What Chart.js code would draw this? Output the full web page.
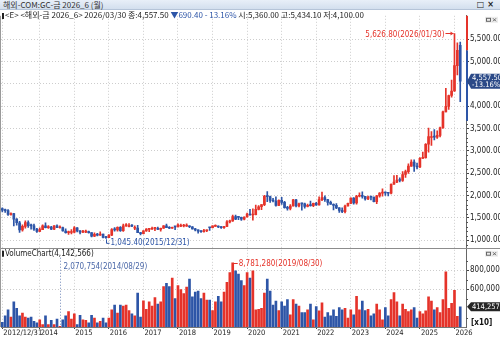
<!DOCTYPE html>
<html>
<head>
<meta charset="utf-8">
<script src="https://cdn.jsdelivr.net/npm/chart.js@4.4.1/dist/chart.umd.min.js"></script>
<style>
    body { margin: 0; width: 500px; height: 338px; overflow: hidden; background: #fff; position: relative; }
    #title { position: absolute; left: 0; top: 0; width: 500px; height: 10px; box-sizing: border-box;
        background: linear-gradient(#e8eff8, #d3dfee); border-bottom: 1px solid #b5c4d8;
        font: 8px/9px 'Noto Sans CJK KR', sans-serif; color: #333; padding-left: 3px; z-index: 2; }
    #title .btn { position: absolute; right: 3px; top: 0; font: bold 8px/9px 'DejaVu Sans', sans-serif; color: #222; letter-spacing: 3px; }
    #info { position: absolute; left: 2px; top: 10px; height: 9px; white-space: nowrap; z-index: 2;
        font: 8px/9px 'Liberation Sans Narrow', 'Noto Sans CJK KR', sans-serif; color: #222; }
    #info .dn { color: #2d55a7; }
    #info .mk { display: inline-block; width: 2px; height: 6px; background: #222; margin-right: 1px; vertical-align: -1px; }
    #c { position: absolute; left: 0; top: 10px; }
</style>
</head>
<body>
<div id="title">해외-COM:GC-금 2026_6 (월)<span class="btn">□×</span></div>
<div id="info"></div>
<canvas id="c" width="500" height="328"></canvas>
<script>
    const months = [
        '2012/12',
        '2013/01', '2013/02', '2013/03', '2013/04', '2013/05', '2013/06', '2013/07', '2013/08', '2013/09', '2013/10', '2013/11', '2013/12',
        '2014/01', '2014/02', '2014/03', '2014/04', '2014/05', '2014/06', '2014/07', '2014/08', '2014/09', '2014/10', '2014/11', '2014/12',
        '2015/01', '2015/02', '2015/03', '2015/04', '2015/05', '2015/06', '2015/07', '2015/08', '2015/09', '2015/10', '2015/11', '2015/12',
        '2016/01', '2016/02', '2016/03', '2016/04', '2016/05', '2016/06', '2016/07', '2016/08', '2016/09', '2016/10', '2016/11', '2016/12',
        '2017/01', '2017/02', '2017/03', '2017/04', '2017/05', '2017/06', '2017/07', '2017/08', '2017/09', '2017/10', '2017/11', '2017/12',
        '2018/01', '2018/02', '2018/03', '2018/04', '2018/05', '2018/06', '2018/07', '2018/08', '2018/09', '2018/10', '2018/11', '2018/12',
        '2019/01', '2019/02', '2019/03', '2019/04', '2019/05', '2019/06', '2019/07', '2019/08', '2019/09', '2019/10', '2019/11', '2019/12',
        '2020/01', '2020/02', '2020/03', '2020/04', '2020/05', '2020/06', '2020/07', '2020/08', '2020/09', '2020/10', '2020/11', '2020/12',
        '2021/01', '2021/02', '2021/03', '2021/04', '2021/05', '2021/06', '2021/07', '2021/08', '2021/09', '2021/10', '2021/11', '2021/12',
        '2022/01', '2022/02', '2022/03', '2022/04', '2022/05', '2022/06', '2022/07', '2022/08', '2022/09', '2022/10', '2022/11', '2022/12',
        '2023/01', '2023/02', '2023/03', '2023/04', '2023/05', '2023/06', '2023/07', '2023/08', '2023/09', '2023/10', '2023/11', '2023/12',
        '2024/01', '2024/02', '2024/03', '2024/04', '2024/05', '2024/06', '2024/07', '2024/08', '2024/09', '2024/10', '2024/11', '2024/12',
        '2025/01', '2025/02', '2025/03', '2025/04', '2025/05', '2025/06', '2025/07', '2025/08', '2025/09', '2025/10', '2025/11', '2025/12',
        '2026/01', '2026/02', '2026/03'
    ];

    const open = [
        1712,
        1675, 1663, 1578, 1597, 1476, 1393, 1234, 1313, 1396, 1328, 1323, 1250,
        1202, 1240, 1326, 1284, 1296, 1250, 1322, 1282, 1287, 1210, 1172, 1175,
        1184, 1279, 1213, 1183, 1184, 1190, 1172, 1095, 1132, 1115, 1142, 1065,
        1060, 1116, 1238, 1234, 1292, 1215, 1322, 1306, 1320, 1270, 1276, 1173,
        1152, 1211, 1246, 1249, 1266, 1270, 1242, 1270, 1322, 1283, 1271, 1311,
        1303, 1316, 1320, 1318, 1320, 1305, 1253, 1233, 1206, 1196, 1215, 1286,
        1282, 1313, 1319, 1298, 1285, 1311, 1413, 1437, 1529, 1516, 1513, 1472,
        1523, 1587, 1566, 1577, 1694, 1751, 1800, 1986, 1978, 1895, 1879, 1780,
        1895, 1850, 1729, 1716, 1768, 1905, 1771, 1818, 1815, 1757, 1784, 1776,
        1829, 1795, 1909, 1954, 1911, 1848, 1807, 1781, 1726, 1672, 1640, 1768,
        1826, 1945, 1836, 1986, 1999, 1982, 1929, 1970, 1966, 1866, 1995, 2057,
        2071, 2058, 2054, 2254, 2303, 2348, 2339, 2473, 2536, 2659, 2749, 2657,
        2641, 2835, 2848, 3150, 3300, 3315, 3307, 3348, 3516, 3873, 3996, 4239,
        4341, 4908, 5360
    ];
    const high = [
        1727,
        1700, 1690, 1617, 1605, 1488, 1424, 1348, 1434, 1434, 1362, 1361, 1268,
        1280, 1346, 1392, 1331, 1315, 1332, 1346, 1325, 1294, 1255, 1206, 1238,
        1307, 1284, 1220, 1225, 1232, 1205, 1175, 1170, 1157, 1191, 1142, 1088,
        1129, 1263, 1287, 1304, 1307, 1362, 1377, 1375, 1352, 1327, 1338, 1182,
        1220, 1264, 1264, 1297, 1274, 1297, 1275, 1331, 1362, 1309, 1299, 1312,
        1370, 1366, 1356, 1370, 1327, 1309, 1266, 1237, 1215, 1246, 1237, 1291,
        1326, 1349, 1324, 1310, 1311, 1443, 1453, 1566, 1566, 1526, 1520, 1525,
        1611, 1691, 1704, 1788, 1775, 1800, 2006, 2089, 1992, 1939, 1973, 1907,
        1962, 1875, 1759, 1798, 1919, 1919, 1836, 1832, 1836, 1813, 1877, 1831,
        1853, 1976, 2078, 1998, 1915, 1879, 1814, 1824, 1735, 1729, 1786, 1833,
        1950, 1959, 2009, 2063, 2085, 1987, 1990, 1981, 1970, 2009, 2070, 2152,
        2085, 2068, 2265, 2448, 2454, 2396, 2537, 2570, 2709, 2801, 2800, 2726,
        2853, 2974, 3164, 3509, 3435, 3476, 3451, 3534, 3890, 4398, 4250, 4585,
        5626.8, 5420, 5434.1
    ];
    const low = [
        1636,
        1626, 1555, 1562, 1321, 1338, 1180, 1208, 1271, 1290, 1251, 1221, 1180,
        1195, 1238, 1277, 1268, 1240, 1240, 1281, 1273, 1206, 1160, 1131, 1142,
        1167, 1191, 1142, 1170, 1170, 1162, 1077, 1080, 1098, 1110, 1052, 1045.4,
        1058, 1107, 1208, 1208, 1199, 1200, 1310, 1302, 1304, 1241, 1171, 1124,
        1146, 1200, 1195, 1243, 1214, 1236, 1204, 1265, 1281, 1261, 1264, 1237,
        1300, 1307, 1303, 1314, 1281, 1251, 1211, 1160, 1180, 1182, 1196, 1221,
        1279, 1310, 1281, 1267, 1268, 1308, 1387, 1424, 1465, 1460, 1445, 1459,
        1517, 1563, 1450, 1568, 1681, 1684, 1774, 1864, 1851, 1860, 1764, 1776,
        1803, 1717, 1673, 1679, 1765, 1750, 1750, 1677, 1721, 1746, 1762, 1753,
        1780, 1784, 1890, 1872, 1787, 1805, 1681, 1709, 1622, 1617, 1616, 1765,
        1823, 1809, 1810, 1969, 1942, 1900, 1912, 1904, 1858, 1823, 1965, 1990,
        2002, 1996, 2038, 2249, 2289, 2304, 2318, 2406, 2497, 2653, 2541, 2596,
        2625, 2830, 2836, 2970, 3121, 3245, 3282, 3314, 3510, 3870, 3930, 4200,
        4330, 4700, 4100
    ];
    const close = [
        1675,
        1663, 1578, 1597, 1476, 1393, 1234, 1313, 1396, 1328, 1323, 1250, 1202,
        1240, 1326, 1284, 1296, 1250, 1322, 1282, 1287, 1210, 1172, 1175, 1184,
        1279, 1213, 1183, 1184, 1190, 1172, 1095, 1132, 1115, 1142, 1065, 1060,
        1116, 1238, 1234, 1292, 1215, 1322, 1351, 1311, 1317, 1276, 1173, 1152,
        1211, 1254, 1249, 1268, 1270, 1242, 1270, 1322, 1283, 1271, 1275, 1303,
        1345, 1320, 1327, 1320, 1305, 1253, 1233, 1206, 1196, 1215, 1226, 1282,
        1325, 1319, 1298, 1285, 1311, 1413, 1437, 1529, 1472, 1513, 1472, 1523,
        1587, 1566, 1577, 1694, 1751, 1800, 1986, 1978, 1895, 1879, 1780, 1895,
        1850, 1729, 1716, 1768, 1905, 1771, 1817, 1815, 1757, 1784, 1776, 1829,
        1795, 1909, 1954, 1911, 1848, 1807, 1781, 1726, 1672, 1640, 1768, 1826,
        1945, 1836, 1986, 1999, 1982, 1929, 1970, 1966, 1866, 1995, 2057, 2071,
        2058, 2054, 2254, 2303, 2348, 2339, 2473, 2536, 2659, 2749, 2657, 2641,
        2835, 2848, 3150, 3319, 3315, 3307, 3348, 3516, 3873, 3996, 4239, 4341,
        4908, 5247.9, 4557.5
    ];
    // raw contracts, the axis shows them divided by 10
    const volume = [
        2500000,
        3190000, 3800000, 3050000, 4660000, 3980000, 3190000, 3460000, 3050000, 2950000, 3050000, 2600000, 2430000,
        2770000, 2260000, 3190000, 2260000, 2700000, 2260000, 2840000, 2070754, 2770000, 3190000, 3630000, 2840000,
        3400000, 2260000, 3220000, 2770000, 2700000, 2430000, 3220000, 2950000, 2430000, 2600000, 2950000, 2430000,
        2950000, 3800000, 4320000, 3460000, 4320000, 4220000, 4320000, 3740000, 3400000, 3190000, 5590000, 3050000,
        4760000, 3870000, 4660000, 4220000, 5110000, 4420000, 4660000, 6280000, 6620000, 6280000, 7170000, 5010000,
        6380000, 5940000, 5520000, 6210000, 7070000, 5180000, 5690000, 5800000, 5010000, 5590000, 4840000, 4840000,
        3740000, 4660000, 5250000, 4660000, 5690000, 6720000, 7750000, 8781280, 7930000, 7590000, 6900000, 6380000,
        7750000, 7170000, 7930000, 3800000, 3870000, 3980000, 5590000, 7070000, 5800000, 4320000, 4730000, 3740000,
        4660000, 4220000, 4900000, 3290000, 4900000, 4420000, 4220000, 3530000, 3530000, 3800000, 4420000, 2770000,
        4150000, 3700000, 4560000, 3050000, 3530000, 3190000, 3800000, 3120000, 4040000, 3800000, 3980000, 2950000,
        3800000, 3290000, 5250000, 3800000, 4730000, 3740000, 3870000, 3190000, 3400000, 4420000, 3800000, 2770000,
        4040000, 3190000, 4900000, 5630000, 4660000, 3190000, 4420000, 3870000, 3630000, 3800000, 4040000, 2950000,
        3630000, 3400000, 3700000, 5180000, 4730000, 3800000, 4040000, 3530000, 4900000, 7820000, 3980000, 4490000,
        5870000, 3120000, 4142566
    ];

    const xTickLabels = ['2012/12/31', '2014', '2015', '2016', '2017', '2018', '2019', '2020', '2021', '2022', '2023', '2024', '2025', '2026'];
    const priceTicks = [1000, 1500, 2000, 2500, 3000, 3500, 4000, 4500, 5000, 5500];
    const volumeTicks = [6000000, 8000000];
    const lastDate = '2026/03/30';
    const monthEnds = { '2014/08': '2014/08/29', '2015/12': '2015/12/31', '2019/08': '2019/08/30', '2026/01': '2026/01/30' };

    const UP = '#e5332a';
    const DOWN = '#2d55a7';
    const narrow = "'Liberation Sans Narrow', 'Arial Narrow', 'DejaVu Sans Condensed', sans-serif";

    const fmt2 = v => v.toLocaleString('en-US', { minimumFractionDigits: 2, maximumFractionDigits: 2 });
    const fmt0 = v => Math.round(v).toLocaleString('en-US');

    const n = close.length;
    const prevClose = close[n - 2];
    const change = close[n - 1] - prevClose;
    const pct = change / prevClose * 100;

    document.getElementById('info').innerHTML =
        `<span class="mk"></span>&lt;E&gt; &lt;해외-금 2026_6&gt; ${lastDate} 종:${fmt2(close[n - 1])} ` +
        `<span class="dn">${change < 0 ? '▼' : '▲'}${fmt2(Math.abs(change))} ${change < 0 ? '-' : ''} ${Math.abs(pct).toFixed(2)}%</span> ` +
        `시:${fmt2(open[n - 1])} 고:${fmt2(high[n - 1])} 저:${fmt2(low[n - 1])}`;

    const candleColors = close.map((c, i) => c >= open[i] ? UP : DOWN);
    const xTicks = xTickLabels.map((t, k) => k === 0 ? 0 : months.indexOf(t + '/01'));

    function hline(ctx, x1, x2, y, color) {
        ctx.strokeStyle = color;
        ctx.beginPath();
        ctx.moveTo(x1, y);
        ctx.lineTo(x2, y);
        ctx.stroke();
    }

    function tag(ctx, left, cy, h, fill, lines) {
        const t = cy - h / 2, b = cy + h / 2;
        ctx.fillStyle = fill;
        ctx.beginPath();
        ctx.moveTo(left, cy);
        ctx.lineTo(left + 4, t);
        ctx.lineTo(500, t);
        ctx.lineTo(500, b);
        ctx.lineTo(left + 4, b);
        ctx.closePath();
        ctx.fill();
        ctx.fillStyle = '#fff';
        ctx.textAlign = 'left';
        lines.forEach((s, k) => ctx.fillText(s, left + 5, cy + (k - (lines.length - 1) / 2) * 7));
    }

    function icon(ctx, top) {
        ctx.fillStyle = '#ececec';
        ctx.fillRect(485, top, 13, 6);
        ctx.strokeStyle = '#666';
        ctx.strokeRect(486.5, top + 1.5, 4, 3);
        ctx.beginPath();
        ctx.moveTo(493, top + 1.5); ctx.lineTo(496, top + 4.5);
        ctx.moveTo(496, top + 1.5); ctx.lineTo(493, top + 4.5);
        ctx.stroke();
    }

    const overlay = {
        id: 'overlay',
        afterDatasetsDraw(chart) {
            const { ctx, scales: { x, y, yv } } = chart;
            ctx.save();
            ctx.font = `8px ${narrow}`;
            ctx.textBaseline = 'middle';
            ctx.lineWidth = 1;

            // highest high
            const iH = high.indexOf(Math.max(...high));
            let px = x.getPixelForValue(iH), py = y.getPixelForValue(high[iH]);
            ctx.strokeStyle = ctx.fillStyle = UP;
            hline(ctx, px - 9, px - 1, Math.round(py) + 0.5, UP);
            ctx.beginPath();
            ctx.moveTo(px - 1, Math.round(py) + 0.5);
            ctx.lineTo(px - 4, Math.round(py) - 1.5);
            ctx.lineTo(px - 4, Math.round(py) + 2.5);
            ctx.fill();
            ctx.textAlign = 'right';
            ctx.fillText(`${fmt2(high[iH])}(${monthEnds[months[iH]]})`, px - 10, py + 1);

            // lowest low
            const iL = low.indexOf(Math.min(...low));
            px = Math.round(x.getPixelForValue(iL)) + 0.5;
            py = y.getPixelForValue(low[iL]);
            ctx.strokeStyle = ctx.fillStyle = DOWN;
            ctx.beginPath();
            ctx.moveTo(px, py + 1);
            ctx.lineTo(px, py + 5);
            ctx.lineTo(px + 3, py + 5);
            ctx.stroke();
            ctx.textAlign = 'left';
            ctx.fillText(`${fmt2(low[iL])}(${monthEnds[months[iL]]})`, px + 4, py + 5);

            // biggest volume
            const iV = volume.indexOf(Math.max(...volume));
            px = x.getPixelForValue(iV);
            py = Math.round(yv.getPixelForValue(volume[iV])) + 0.5;
            ctx.fillStyle = UP;
            hline(ctx, px + 1, px + 5, py, UP);
            ctx.fillText(`${fmt0(volume[iV])}(${monthEnds[months[iV]]})`, px + 6, py);

            // smallest volume
            const iM = volume.indexOf(Math.min(...volume));
            px = Math.round(x.getPixelForValue(iM)) + 0.5;
            py = yv.getPixelForValue(volume[iM]);
            ctx.strokeStyle = '#6f86b8';
            ctx.setLineDash([1, 2]);
            ctx.beginPath();
            ctx.moveTo(px, yv.top + 10);
            ctx.lineTo(px, py);
            ctx.stroke();
            ctx.setLineDash([]);
            ctx.fillStyle = '#4a67a8';
            ctx.fillText(`${fmt0(volume[iM])}(${monthEnds[months[iM]]})`, px + 3, yv.top + 19.5);
            ctx.restore();
        },
        afterDraw(chart) {
            const { ctx, chartArea: ca, scales: { y, yv } } = chart;
            ctx.save();
            ctx.lineWidth = 1;
            ctx.font = `8px ${narrow}`;
            ctx.textBaseline = 'middle';

            // panel frame
            hline(ctx, 0, 500, Math.round(y.bottom) + 0.5, '#8c8c8c');
            ctx.strokeStyle = '#9a9a9a';
            ctx.beginPath();
            ctx.moveTo(0.5, ca.top);
            ctx.lineTo(0.5, ca.bottom);
            ctx.stroke();

            // minor ticks on both value axes
            for (let v = Math.ceil(y.min / 100) * 100; v <= y.max; v += 100) {
                if (v % 500) hline(ctx, ca.right, ca.right + 2, Math.round(y.getPixelForValue(v)) + 0.5, '#555');
            }
            for (let v = 3000000; v <= yv.max; v += 1000000) {
                if (v % 2000000) hline(ctx, ca.right, ca.right + 2, Math.round(yv.getPixelForValue(v)) + 0.5, '#555');
            }

            // +-30% band from the previous close
            const pTop = y.getPixelForValue(Math.min(prevClose * 1.3, y.max));
            const pMid = y.getPixelForValue(prevClose);
            const pBot = y.getPixelForValue(prevClose * 0.7);
            ctx.fillStyle = UP;
            ctx.fillRect(ca.right, pTop, 2, pMid - pTop);
            ctx.fillStyle = DOWN;
            ctx.fillRect(ca.right, pMid, 2, pBot - pMid);

            // last value tags
            ctx.font = `7.5px ${narrow}`;
            tag(ctx, ca.right + 1, y.getPixelForValue(close[n - 1]), 15, '#2b4a88',
                [fmt2(close[n - 1]), `${change < 0 ? '-' : ''}${Math.abs(pct).toFixed(2)}%`]);
            tag(ctx, ca.right + 1, yv.getPixelForValue(volume[n - 1]), 9, '#262626', [fmt0(volume[n - 1] / 10)]);

            ctx.font = `bold 8px ${narrow}`;
            ctx.fillStyle = '#111';
            ctx.textAlign = 'left';
            ctx.fillText('[x10]', ca.right + 5, ca.bottom - 4);

            // volume panel caption
            ctx.font = `8px ${narrow}`;
            ctx.fillStyle = '#222';
            ctx.fillRect(2, yv.top + 3, 2, 6);
            ctx.fillText(`VolumeChart(${fmt0(volume[n - 1])})`, 5, yv.top + 6);

            icon(ctx, ca.top + 1);
            icon(ctx, yv.top + 3);
            ctx.restore();
        }
    };

    const axisFont = { family: narrow, size: 8 };

    new Chart(document.getElementById('c'), {
        type: 'bar',
        data: {
            datasets: [
                {
                    label: 'wick',
                    data: months.map((m, i) => ({ x: i, y: [low[i], high[i]] })),
                    backgroundColor: candleColors,
                    barThickness: 1,
                    grouped: false,
                    yAxisID: 'y'
                },
                {
                    label: 'body',
                    data: months.map((m, i) => ({ x: i, y: [open[i], close[i]] })),
                    backgroundColor: candleColors,
                    barThickness: 2,
                    minBarLength: 1,
                    grouped: false,
                    yAxisID: 'y'
                },
                {
                    label: 'volume',
                    data: months.map((m, i) => ({ x: i, y: volume[i] })),
                    backgroundColor: candleColors,
                    barThickness: 2,
                    grouped: false,
                    yAxisID: 'yv'
                }
            ]
        },
        options: {
            responsive: false,
            animation: false,
            devicePixelRatio: 1,
            layout: { padding: { top: 1, left: 1, right: 0, bottom: 0 } },
            plugins: { legend: { display: false }, tooltip: { enabled: false } },
            scales: {
                x: {
                    type: 'linear',
                    min: -0.45,
                    max: 161,
                    offset: false,
                    afterBuildTicks: s => { s.ticks = xTicks.map(v => ({ value: v })); },
                    afterFit: s => { s.height = 11; },
                    grid: { offset: false, color: '#cdcdcd', tickLength: 2, tickColor: '#444' },
                    border: { color: '#777', dash: [1, 2] },
                    ticks: {
                        autoSkip: false, maxRotation: 0, align: 'start', labelOffset: 1, padding: 0,
                        color: '#222', font: { family: narrow, size: 7.5 },
                        callback: (v, i) => xTickLabels[i]
                    }
                },
                y: {
                    position: 'right',
                    stack: 'panes',
                    stackWeight: 235.5,
                    min: 835,
                    max: 6022,
                    afterBuildTicks: s => { s.ticks = priceTicks.map(v => ({ value: v })); },
                    afterFit: s => { s.width = 34; },
                    grid: { color: '#cdcdcd', tickLength: 3, tickColor: '#444' },
                    border: { color: '#666', dash: [1, 2] },
                    ticks: { padding: 1, color: '#222', font: axisFont, callback: v => fmt2(v) }
                },
                yv: {
                    position: 'right',
                    stack: 'panes',
                    stackWeight: 80.5,
                    min: 2000000,
                    max: 10370000,
                    afterBuildTicks: s => { s.ticks = volumeTicks.map(v => ({ value: v })); },
                    afterFit: s => { s.width = 34; },
                    grid: { color: '#cdcdcd', tickLength: 3, tickColor: '#444' },
                    border: { color: '#666', dash: [1, 2] },
                    ticks: { padding: 1, color: '#222', font: axisFont, callback: v => fmt0(v / 10) }
                }
            }
        },
        plugins: [overlay]
    });
</script>
</body>
</html>
